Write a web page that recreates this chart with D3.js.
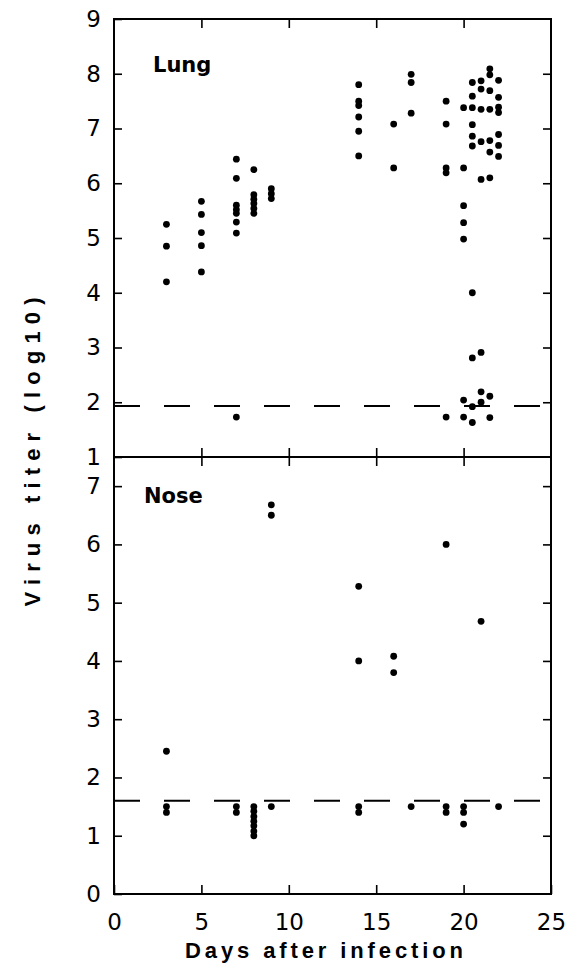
<!DOCTYPE html>
<html>
<head>
<meta charset="utf-8">
<script src="https://cdn.jsdelivr.net/npm/d3@7"></script>
<style>
  html, body { margin: 0; padding: 0; background: #fff; }
  svg { display: block; }
</style>
</head>
<body>
<svg id="chart" width="571" height="965"></svg>
<script>
// ---- Data ----
const lungDay = [
  3,3,3,
  5,5,5,5,5,
  7,7,7,7,7,7,7,7,
  8,8,8,8,8,8,
  9,9,9,
  14,14,14,14,14,14,
  16,16,
  17,17,17,
  19,19,19,19,19,
  20,20,20,20,20,20,20,
  20.5,20.5,20.5,20.5,20.5,20.5,20.5,20.5,20.5,20.5,
  21,21,21,21,21,21,21,21,
  21.5,21.5,21.5,21.5,21.5,21.5,21.5,21.5,21.5,
  22,22,22,22,22,22,22
];
const lungTiter = [
  5.25,4.85,4.2,
  5.67,5.43,5.1,4.86,4.38,
  6.44,6.09,5.6,5.52,5.45,5.29,5.09,1.73,
  6.25,5.79,5.71,5.63,5.54,5.45,
  5.9,5.81,5.72,
  7.8,7.5,7.42,7.21,6.95,6.5,
  7.08,6.28,
  7.99,7.84,7.28,
  7.5,7.08,6.28,6.19,1.73,
  7.38,6.28,5.59,5.28,4.98,2.04,1.73,
  7.84,7.59,7.38,7.07,6.86,6.68,4.0,2.81,1.92,1.63,
  7.87,7.72,7.35,6.76,6.07,2.91,2.19,2.0,
  8.09,7.98,7.69,7.35,6.78,6.57,6.1,2.11,1.72,
  7.88,7.57,7.39,7.29,6.89,6.69,6.49
];
const noseDay = [
  3,3,3,
  7,7,
  8,8,8,8,8,8,8,
  9,9,9,
  14,14,14,14,
  16,16,
  17,
  19,19,19,
  20,20,20,
  21,
  22
];
const noseTiter = [
  2.45,1.5,1.4,
  1.5,1.4,
  1.5,1.42,1.33,1.25,1.17,1.08,1.0,
  6.68,6.5,1.5,
  5.28,4.0,1.5,1.4,
  4.08,3.8,
  1.5,
  6.0,1.5,1.4,
  1.5,1.4,1.2,
  4.68,
  1.5
];
const lungLimit = 1.93;
const noseLimit = 1.6;
const xTicks = [0,5,10,15,20,25];
const lungTicks = [1,2,3,4,5,6,7,8,9];
const noseTicks = [0,1,2,3,4,5,6,7];
const lungLabel = "Lung";
const noseLabel = "Nose";
const xTitle = "Days after infection";
const yTitle = "Virus titer (log10)";

// ---- Layout ----
const svg = d3.select("#chart");
const left = 114, right = 551;
const topY = 19, midY = 457, botY = 894;

const x = d3.scaleLinear().domain([0, 25]).range([left, right]);
const yLung = d3.scaleLinear().domain([1, 9]).range([midY, topY]);
const yNose = d3.scaleLinear().domain([0, 7.5]).range([botY, midY]);

const numFont = "'DejaVu Sans', Verdana, sans-serif";
const titleFont = "'Liberation Sans', Arial, sans-serif";
const TK = 8;

function styleAxis(g, showLabels) {
  g.select(".domain").remove();
  g.selectAll(".tick line").attr("stroke", "#000").attr("stroke-width", 1.6);
  g.selectAll(".tick text")
    .attr("font-family", numFont)
    .attr("font-size", 23)
    .attr("fill", "#000");
  if (!showLabels) g.selectAll(".tick text").remove();
}

// Top panel axes
svg.append("g").attr("transform", `translate(${left},0)`)
  .call(d3.axisLeft(yLung).tickValues(lungTicks).tickSize(-TK).tickPadding(13))
  .call(g => styleAxis(g, true));
svg.append("g").attr("transform", `translate(${right},0)`)
  .call(d3.axisRight(yLung).tickValues(lungTicks.slice(1, -1)).tickSize(-TK))
  .call(g => styleAxis(g, false));
svg.append("g").attr("transform", `translate(0,${topY})`)
  .call(d3.axisTop(x).tickValues([5,10,15,20]).tickSize(-TK - 1))
  .call(g => styleAxis(g, false));
svg.append("g").attr("transform", `translate(0,${midY})`)
  .call(d3.axisBottom(x).tickValues([5,10,15,20]).tickSize(-TK - 1))
  .call(g => styleAxis(g, false));

// Bottom panel axes
svg.append("g").attr("transform", `translate(${left},0)`)
  .call(d3.axisLeft(yNose).tickValues(noseTicks).tickSize(-TK).tickPadding(13))
  .call(g => styleAxis(g, true));
svg.append("g").attr("transform", `translate(${right},0)`)
  .call(d3.axisRight(yNose).tickValues(noseTicks.slice(1)).tickSize(-TK))
  .call(g => styleAxis(g, false));
svg.append("g").attr("transform", `translate(0,${midY})`)
  .call(d3.axisTop(x).tickValues([5,10,15,20]).tickSize(-TK - 1))
  .call(g => styleAxis(g, false));
svg.append("g").attr("transform", `translate(0,${botY})`)
  .call(d3.axisBottom(x).tickValues(xTicks).tickSize(-TK - 1).tickPadding(20))
  .call(g => styleAxis(g, true));

// Frames
svg.append("rect").attr("x", left).attr("y", topY)
  .attr("width", right - left).attr("height", midY - topY)
  .attr("fill", "none").attr("stroke", "#000").attr("stroke-width", 2);
svg.append("rect").attr("x", left).attr("y", midY)
  .attr("width", right - left).attr("height", botY - midY)
  .attr("fill", "none").attr("stroke", "#000").attr("stroke-width", 2);

// Detection limit lines
svg.append("line")
  .attr("x1", x(0)).attr("x2", x(24.4))
  .attr("y1", yLung(lungLimit)).attr("y2", yLung(lungLimit))
  .attr("stroke", "#000").attr("stroke-width", 2).attr("stroke-dasharray", "26,24");
svg.append("line")
  .attr("x1", x(0)).attr("x2", x(24.4))
  .attr("y1", yNose(noseLimit)).attr("y2", yNose(noseLimit))
  .attr("stroke", "#000").attr("stroke-width", 2).attr("stroke-dasharray", "26,24");

// Points
svg.append("g").selectAll("circle")
  .data(d3.range(lungDay.length))
  .join("circle")
  .attr("cx", i => x(lungDay[i]))
  .attr("cy", i => yLung(lungTiter[i]))
  .attr("r", 3.4)
  .attr("fill", "#000");
svg.append("g").selectAll("circle")
  .data(d3.range(noseDay.length))
  .join("circle")
  .attr("cx", i => x(noseDay[i]))
  .attr("cy", i => yNose(noseTiter[i]))
  .attr("r", 3.4)
  .attr("fill", "#000");

// Panel labels
svg.append("text").attr("x", 153).attr("y", 72)
  .attr("font-family", numFont).attr("font-weight", "bold").attr("font-size", 21)
  .text(lungLabel);
svg.append("text").attr("x", 144).attr("y", 503)
  .attr("font-family", numFont).attr("font-weight", "bold").attr("font-size", 21)
  .text(noseLabel);

// Axis titles
svg.append("text")
  .attr("x", 324).attr("y", 958)
  .attr("text-anchor", "middle")
  .attr("font-family", titleFont).attr("font-weight", "bold").attr("font-size", 22)
  .attr("textLength", 278).attr("lengthAdjust", "spacing")
  .text(xTitle);
svg.append("text")
  .attr("transform", "translate(40,452) rotate(-90)")
  .attr("text-anchor", "middle")
  .attr("font-family", titleFont).attr("font-weight", "bold").attr("font-size", 22)
  .attr("textLength", 309).attr("lengthAdjust", "spacing")
  .text(yTitle);
</script>
</body>
</html>
